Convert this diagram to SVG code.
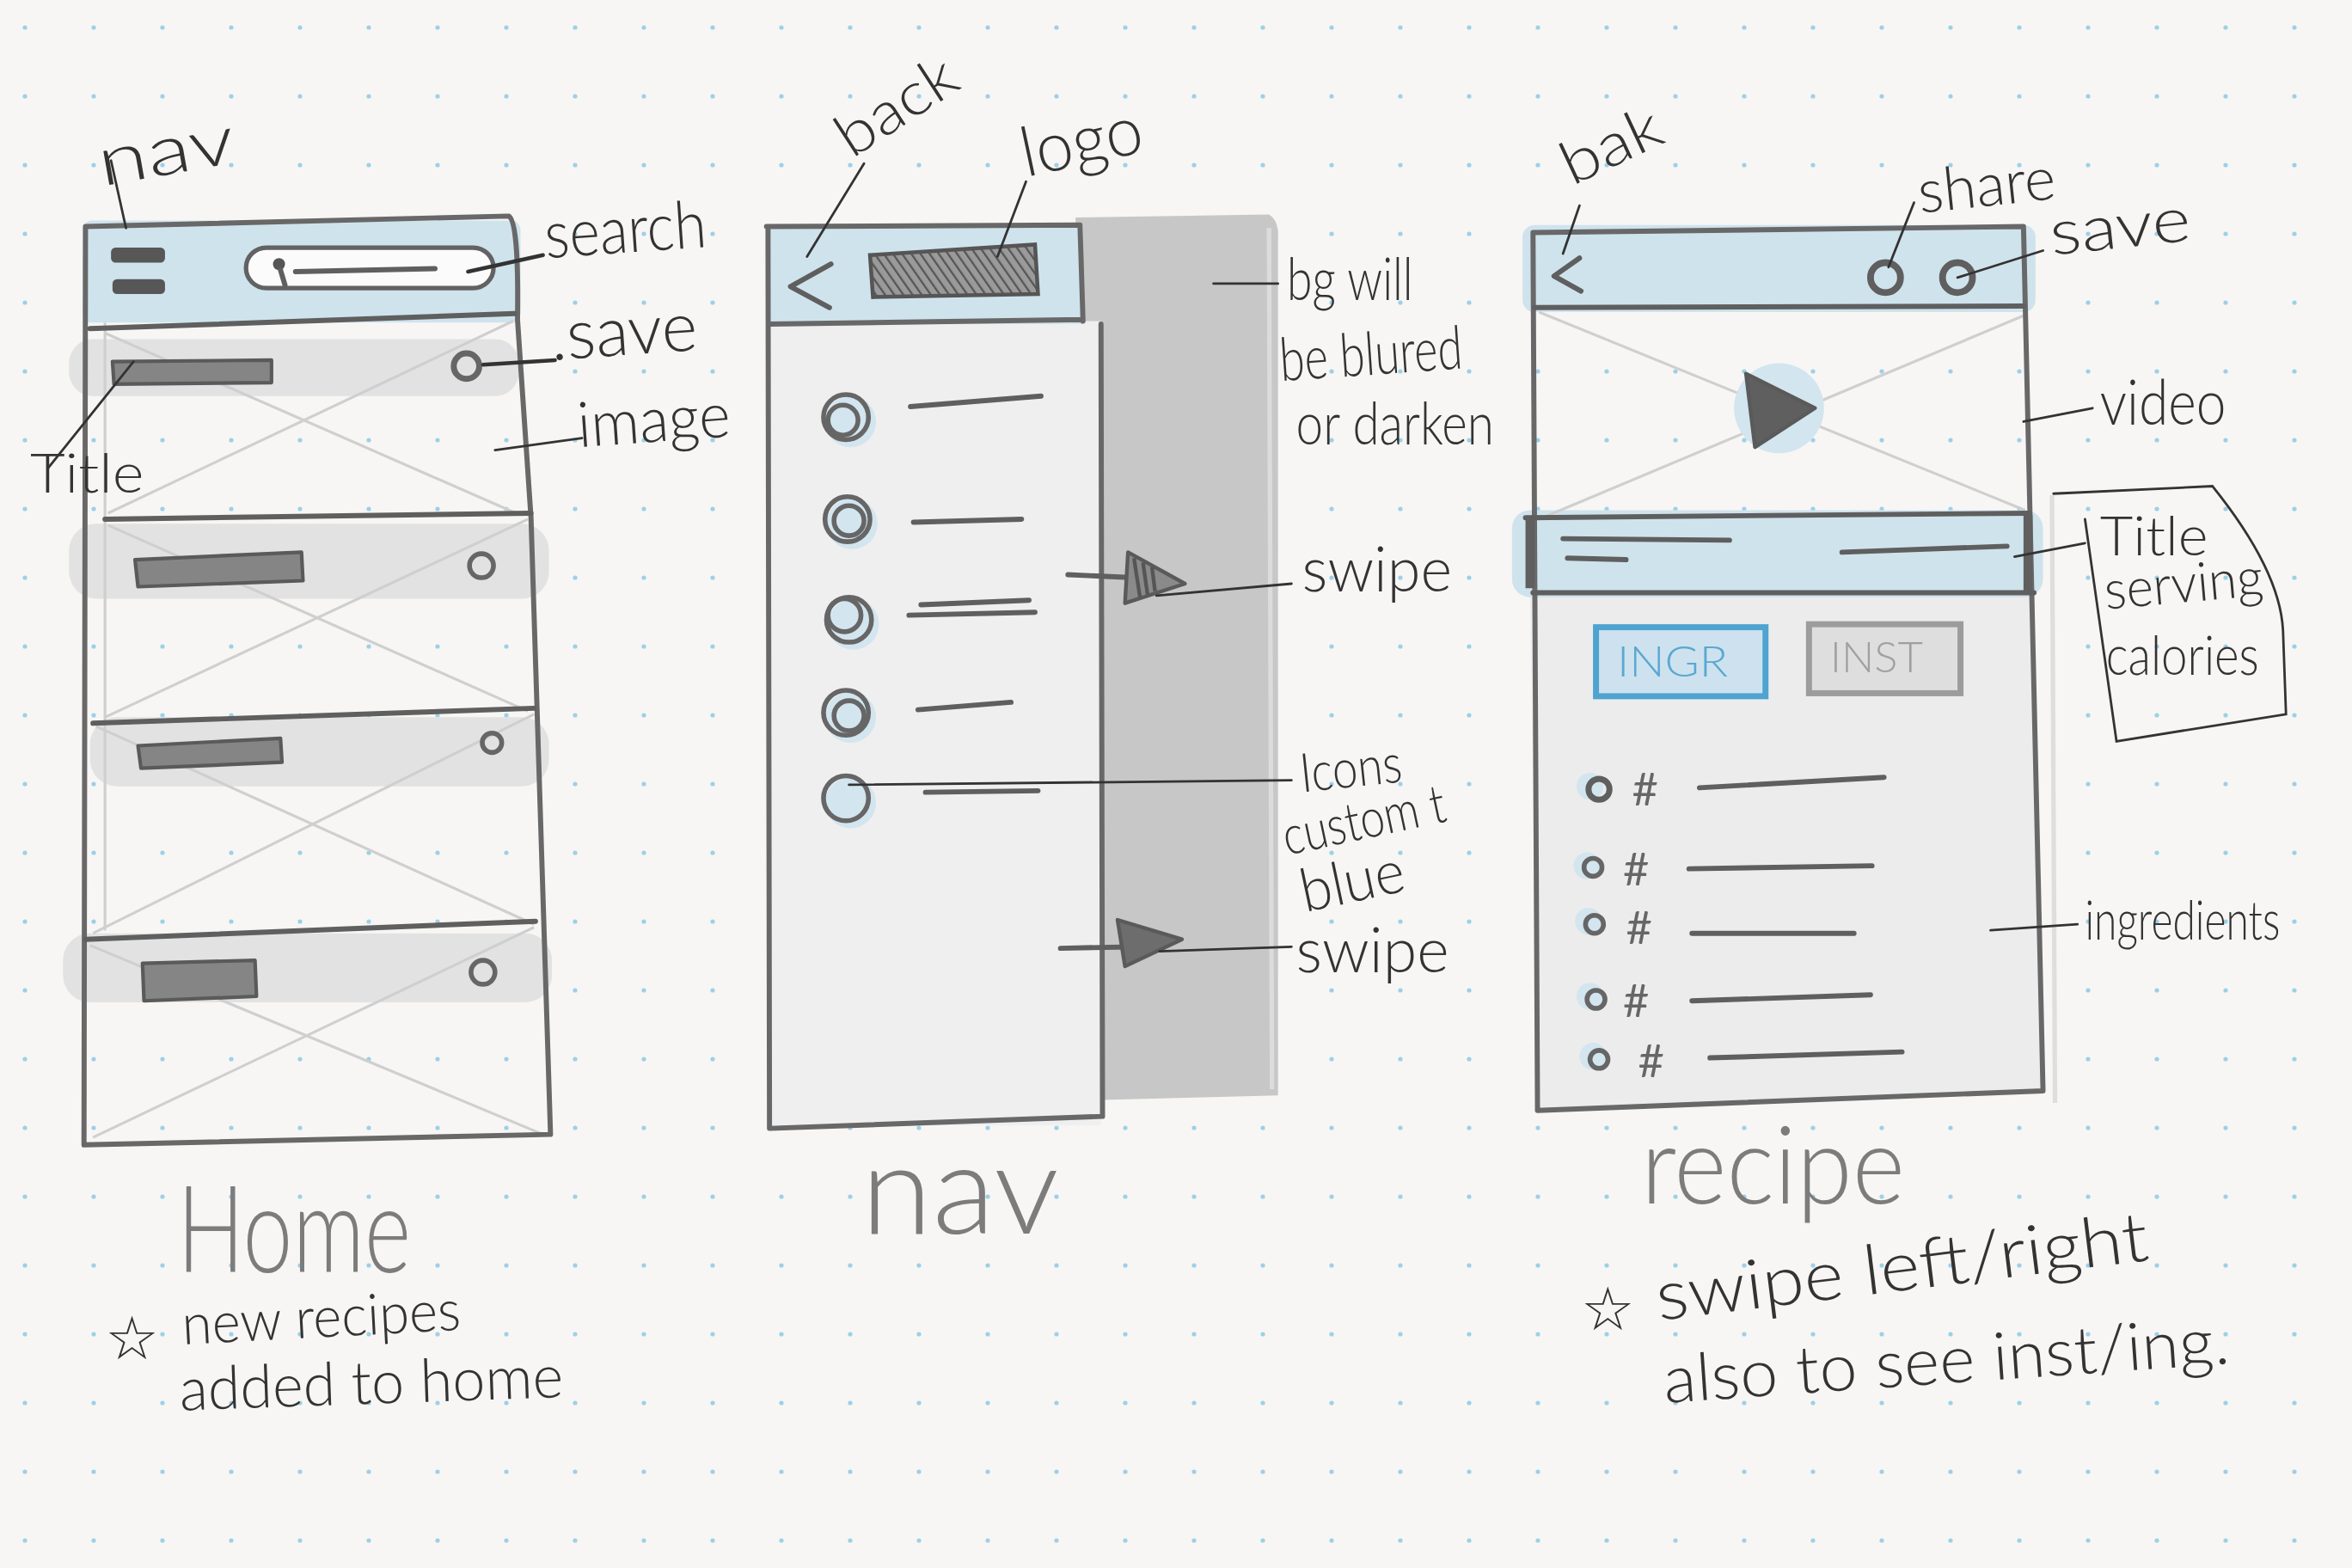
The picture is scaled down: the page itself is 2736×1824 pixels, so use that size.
<svg xmlns="http://www.w3.org/2000/svg" width="2736" height="1824" viewBox="0 0 2736 1824">
<defs>
<pattern id="dots" patternUnits="userSpaceOnUse" width="80" height="80"><circle cx="29" cy="32" r="2.6" fill="#9dd0e7"/></pattern>
<pattern id="hatch" patternUnits="userSpaceOnUse" width="5" height="5" patternTransform="rotate(-35)"><rect width="5" height="5" fill="#9a9a9a"/><line x1="0" y1="0" x2="0" y2="5" stroke="#555" stroke-width="2.6"/></pattern>
<style>
.hand{font-family:Lato,'Open Sans','DejaVu Sans',sans-serif;font-weight:300;fill:#333}
.big{font-family:Lato,'Open Sans','DejaVu Sans',sans-serif;font-weight:300;fill:#7c7c7c}
.sym{font-family:'DejaVu Sans',sans-serif;fill:#333;font-weight:bold}
.frame{fill:none;stroke:#686868;stroke-width:3.4;stroke-linejoin:round;stroke-linecap:round}
.dark{fill:none;stroke:#5f5f5f;stroke-width:3.4;stroke-linecap:round;stroke-linejoin:round}
.xl{fill:none;stroke:#cfcfcf;stroke-width:1.8}
.lead{fill:none;stroke:#333;stroke-width:1.6;stroke-linecap:round}
.blue{fill:#cfe3ed}
.band{fill:#e2e2e2}
.ico{fill:none;stroke:#666;stroke-width:3.2}
.halo{fill:#d3e5ee}
.tbar{fill:#858585;stroke:#5a5a5a;stroke-width:2.4;stroke-linejoin:round}
</style>
</defs>
<rect width="2736" height="1824" fill="#f7f6f4"/>
<rect width="2736" height="1824" fill="url(#dots)"/>
<g transform="scale(1.7449 1.7455)">

<!-- HOME SCREEN -->
<g id="home-screen">
 <rect x="55" y="147" width="292" height="68" rx="6" class="blue"/>
 <rect x="46" y="226" width="300" height="38" rx="16" class="band"/>
 <rect x="46" y="349" width="320" height="50" rx="18" class="band"/>
 <rect x="60" y="478" width="306" height="46" rx="18" class="band"/>
 <rect x="42" y="622" width="326" height="46" rx="18" class="band"/>
 <path class="xl" d="M70,222 L344,342 M342,214 L72,342"/>
 <path class="xl" d="M72,350 L352,474 M352,346 L70,478"/>
 <path class="xl" d="M64,484 L356,616 M356,476 L62,622"/>
 <path class="xl" d="M60,630 L362,756 M356,618 L62,758"/>
 <path class="xl" d="M70,215 L70,620"/>
 <path class="frame" d="M57,151 L339,144 Q346,147 345,213 L354,345 L367,756 L56,763 Z"/>
 <path class="dark" d="M60,219 L343,209"/>
 <path class="dark" d="M70,346 L354,342"/>
 <path class="dark" d="M62,482 L356,472"/>
 <path class="dark" d="M57,626 L357,614"/>
 <rect x="74" y="165" width="36" height="10" rx="3" fill="#575757"/>
 <rect x="75" y="186" width="35" height="10" rx="3" fill="#575757"/>
 <rect x="164" y="165" width="165" height="27" rx="13.5" fill="#fbfbfb" stroke="#626262" stroke-width="3"/>
 <path class="dark" stroke-width="3" d="M197,181 L290,179"/>
 <circle cx="186" cy="176" r="4" fill="#555"/>
 <path class="dark" stroke-width="2.4" d="M187,180 L190,190"/>
 <path class="tbar" d="M75,241 L181,240 L181,255 L76,256 Z"/>
 <path class="tbar" d="M90,373 L201,368 L202,387 L92,391 Z"/>
 <path class="tbar" d="M92,497 L187,492 L188,508 L94,512 Z"/>
 <path class="tbar" d="M95,642 L170,640 L171,664 L96,667 Z"/>
 <circle cx="311" cy="244" r="8.5" fill="none" stroke="#666" stroke-width="4"/>
 <circle cx="321" cy="377" r="8" class="ico"/>
 <circle cx="328" cy="495" r="6.5" class="ico"/>
 <circle cx="322" cy="648" r="8" class="ico"/>
</g>

<!-- NAV SCREEN -->
<g id="nav-screen">
 <path d="M717,145 L846,143 Q853,147 852,160 L852,730 L735,733 Z" fill="#c7c7c7"/>
 <path d="M846,152 L848,726" stroke="#dcdcdc" stroke-width="3" fill="none"/>
 <rect x="512" y="214" width="222" height="536" fill="#efefef"/>
 <rect x="512" y="150" width="210" height="66" class="blue"/>
 <path class="frame" d="M511,151 L720,150 L722,214 M512,151 L513,752 L735,744 L734,216 M513,216 L722,213"/>
 <path class="dark" stroke-width="4" d="M554,176 L527,191 L553,205"/>
 <path d="M580,170 L690,163 L692,196 L582,198 Z" fill="url(#hatch)" stroke="#555" stroke-width="2.6"/>
 <circle cx="567" cy="281" r="17" class="halo"/>
 <circle cx="568" cy="349" r="17" class="halo"/>
 <circle cx="569" cy="416" r="17" class="halo"/>
 <circle cx="567" cy="478" r="17" class="halo"/>
 <circle cx="567" cy="535" r="17" class="halo"/>
 <circle cx="564" cy="278" r="15" class="ico"/><circle cx="562" cy="280" r="10" class="ico" stroke-width="2"/>
 <circle cx="565" cy="346" r="15" class="ico"/><circle cx="566" cy="347" r="10" class="ico" stroke-width="2"/>
 <circle cx="566" cy="413" r="15" class="ico"/><circle cx="563" cy="410" r="11" class="ico" stroke-width="2"/>
 <circle cx="564" cy="475" r="15" class="ico"/><circle cx="566" cy="477" r="10" class="ico" stroke-width="2"/>
 <circle cx="564" cy="532" r="15" class="ico"/>
 <path class="dark" d="M607,271 L694,264"/>
 <path class="dark" d="M609,348 L681,346"/>
 <path class="dark" d="M606,410 L690,408 M614,403 L686,400"/>
 <path class="dark" d="M612,473 L674,468"/>
 <path class="dark" d="M617,528 L692,527"/>
 <path class="dark" d="M712,383 L756,385"/>
 <path d="M752,368 L790,389 L750,402 Z" fill="#8a8a8a" stroke="#5a5a5a" stroke-width="2.5" stroke-linejoin="round"/>
 <path d="M756,372 L760,398 M762,375 L765,396 M768,378 L770,394" stroke="#555" stroke-width="2.5" fill="none"/>
 <path class="dark" d="M707,632 L754,631"/>
 <path d="M745,613 L788,626 L750,644 Z" fill="#6d6d6d" stroke="#5a5a5a" stroke-width="2.5" stroke-linejoin="round"/>
</g>

<!-- RECIPE SCREEN -->
<g id="recipe-screen">
 <path d="M1020,395 L1356,395 L1362,727 L1025,740 Z" fill="#ececec"/>
 <rect x="1015" y="150" width="342" height="58" rx="8" class="blue"/>
 <rect x="1008" y="340" width="354" height="58" rx="12" class="blue"/>
 <path class="xl" d="M1026,208 L1350,340 M1350,210 L1026,346"/>
 <path d="M1368,330 L1370,735" stroke="#dedede" stroke-width="3" fill="none"/>
 <circle cx="1186" cy="272" r="30" class="halo"/>
 <path d="M1164,249 L1210,272 L1170,298 Z" fill="#5f5f5f" stroke="#5a5a5a" stroke-width="2.5" stroke-linejoin="round"/>
 <path class="frame" d="M1022,155 L1349,151 L1362,727 L1025,740 Z"/>
 <path class="dark" d="M1023,205 L1349,204"/>
 <path class="dark" d="M1017,345 L1353,342"/>
 <path class="dark" d="M1022,395 L1356,395"/>
 <path d="M1020,345 L1020,392 M1352,343 L1352,394" stroke="#5f5f5f" stroke-width="6" fill="none"/>
 <path class="dark" d="M1042,359 L1153,360"/>
 <path class="dark" d="M1045,372 L1084,373"/>
 <path class="dark" d="M1228,368 L1338,364"/>
 <path class="dark" stroke-width="4" d="M1053,172 L1036,184 L1054,194"/>
 <circle cx="1257" cy="185" r="10" fill="none" stroke="#5f5f5f" stroke-width="4.5"/>
 <circle cx="1305" cy="185" r="10" fill="none" stroke="#5f5f5f" stroke-width="4.5"/>
 <rect x="1064" y="418" width="113" height="46" fill="#cde2ee" stroke="#4fa3d1" stroke-width="4"/>
 <text x="1078" y="451" class="hand" font-size="28" textLength="74" lengthAdjust="spacingAndGlyphs" style="fill:#5aa8d2">INGR</text>
 <rect x="1206" y="416" width="101" height="46" fill="#dedede" stroke="#9c9c9c" stroke-width="4"/>
 <text x="1220" y="448" class="hand" font-size="28" textLength="62" lengthAdjust="spacingAndGlyphs" style="fill:#a0a0a0">INST</text>
 <circle cx="1060" cy="524" r="9" class="halo"/><circle cx="1066" cy="526" r="7" fill="none" stroke="#5f5f5f" stroke-width="4"/>
 <circle cx="1058" cy="577" r="9" class="halo"/><circle cx="1062" cy="578" r="6" class="ico" stroke-width="3"/>
 <circle cx="1059" cy="614" r="9" class="halo"/><circle cx="1063" cy="616" r="6" class="ico" stroke-width="3"/>
 <circle cx="1060" cy="664" r="9" class="halo"/><circle cx="1064" cy="666" r="6" class="ico" stroke-width="3"/>
 <circle cx="1062" cy="704" r="9" class="halo"/><circle cx="1066" cy="706" r="6" class="ico" stroke-width="3"/>
 <g class="hand" font-size="30" style="fill:#666;font-weight:400">
  <text x="1088" y="537">#</text>
  <text x="1082" y="590">#</text>
  <text x="1084" y="629">#</text>
  <text x="1082" y="678">#</text>
  <text x="1092" y="718">#</text>
 </g>
 <path class="dark" stroke-width="2.6" d="M1133,525 L1256,518"/>
 <path class="dark" stroke-width="2.6" d="M1126,579 L1248,577"/>
 <path class="dark" stroke-width="2.6" d="M1128,622 L1236,622"/>
 <path class="dark" stroke-width="2.6" d="M1128,667 L1247,663"/>
 <path class="dark" stroke-width="2.6" d="M1140,705 L1268,701"/>
</g>

<!-- LABELS -->
<g id="label-nav"><text class="hand" x="68" y="124" font-size="46" textLength="92" lengthAdjust="spacingAndGlyphs" transform="rotate(-10 68 124)">nav</text></g>
<g id="label-search"><text class="hand" x="364" y="172" font-size="44" textLength="108" lengthAdjust="spacingAndGlyphs" transform="rotate(-4 364 172)">search</text></g>
<g id="label-save-home"><text class="hand" x="368" y="240" font-size="46" textLength="98" lengthAdjust="spacingAndGlyphs" transform="rotate(-4 368 240)">.save</text></g>
<g id="label-image"><text class="hand" x="386" y="298" font-size="42" textLength="102" lengthAdjust="spacingAndGlyphs" transform="rotate(-4 386 298)">image</text></g>
<g id="label-title-home"><text class="hand" x="20" y="328" font-size="36" textLength="76" lengthAdjust="spacingAndGlyphs">Title</text></g>
<g id="title-home"><text class="big" x="118" y="848" font-size="80" textLength="156" lengthAdjust="spacingAndGlyphs">Home</text></g>
<g id="note-home">
 <text class="sym" x="70" y="906" font-size="40">☆</text>
 <text class="hand" x="122" y="896" font-size="38" textLength="186" lengthAdjust="spacingAndGlyphs" transform="rotate(-3 122 896)">new recipes</text>
 <text class="hand" x="120" y="940" font-size="40" textLength="256" lengthAdjust="spacingAndGlyphs" transform="rotate(-2 120 940)">added to home</text>
</g>

<g id="label-back"><text class="hand" x="568" y="106" font-size="40" textLength="88" lengthAdjust="spacingAndGlyphs" transform="rotate(-33 568 106)">back</text></g>
<g id="label-logo"><text class="hand" x="684" y="118" font-size="46" textLength="82" lengthAdjust="spacingAndGlyphs" transform="rotate(-12 684 118)">logo</text></g>
<g id="label-bg">
 <text class="hand" x="858" y="200" font-size="40" textLength="84" lengthAdjust="spacingAndGlyphs">bg will</text>
 <text class="hand" x="854" y="254" font-size="40" textLength="122" lengthAdjust="spacingAndGlyphs" transform="rotate(-4 854 254)">be blured</text>
 <text class="hand" x="864" y="296" font-size="40" textLength="132" lengthAdjust="spacingAndGlyphs">or darken</text>
</g>
<g id="label-swipe-1"><text class="hand" x="868" y="394" font-size="42" textLength="100" lengthAdjust="spacingAndGlyphs">swipe</text></g>
<g id="label-icons">
 <text class="hand" x="868" y="528" font-size="36" textLength="68" lengthAdjust="spacingAndGlyphs" transform="rotate(-6 868 528)">Icons</text>
 <text class="hand" x="858" y="570" font-size="36" textLength="110" lengthAdjust="spacingAndGlyphs" transform="rotate(-12 858 570)">custom t</text>
 <text class="hand" x="870" y="608" font-size="40" textLength="70" lengthAdjust="spacingAndGlyphs" transform="rotate(-12 870 608)">blue</text>
</g>
<g id="label-swipe-2"><text class="hand" x="864" y="648" font-size="42" textLength="102" lengthAdjust="spacingAndGlyphs">swipe</text></g>
<g id="title-nav"><text class="big" x="574" y="822" font-size="84" textLength="132" lengthAdjust="spacingAndGlyphs">nav</text></g>

<g id="label-bak"><text class="hand" x="1048" y="124" font-size="40" textLength="70" lengthAdjust="spacingAndGlyphs" transform="rotate(-25 1048 124)">bak</text></g>
<g id="label-share"><text class="hand" x="1280" y="142" font-size="40" textLength="92" lengthAdjust="spacingAndGlyphs" transform="rotate(-6 1280 142)">share</text></g>
<g id="label-save-recipe"><text class="hand" x="1368" y="170" font-size="42" textLength="94" lengthAdjust="spacingAndGlyphs" transform="rotate(-6 1368 170)">save</text></g>
<g id="label-video"><text class="hand" x="1400" y="283" font-size="42" textLength="84" lengthAdjust="spacingAndGlyphs">video</text></g>
<g id="label-title-recipe">
 <path class="lead" d="M1369,329 L1475,324 Q1520,380 1522,420 L1524,476 L1411,494 L1390,346"/>
 <text class="hand" x="1400" y="370" font-size="36" textLength="72" lengthAdjust="spacingAndGlyphs">Title</text>
 <text class="hand" x="1404" y="406" font-size="36" textLength="106" lengthAdjust="spacingAndGlyphs" transform="rotate(-5 1404 406)">serving</text>
 <text class="hand" x="1404" y="450" font-size="36" textLength="102" lengthAdjust="spacingAndGlyphs">calories</text>
</g>
<g id="label-ingredients"><text class="hand" x="1390" y="626" font-size="36" textLength="130" lengthAdjust="spacingAndGlyphs">ingredients</text></g>
<g id="title-recipe"><text class="big" x="1094" y="802" font-size="72" textLength="176" lengthAdjust="spacingAndGlyphs">recipe</text></g>
<g id="note-recipe">
 <text class="sym" x="1054" y="886" font-size="40">☆</text>
 <text class="hand" x="1106" y="880" font-size="46" textLength="330" lengthAdjust="spacingAndGlyphs" transform="rotate(-7 1106 880)">swipe left/right</text>
 <text class="hand" x="1110" y="935" font-size="44" textLength="378" lengthAdjust="spacingAndGlyphs" transform="rotate(-4 1110 935)">also to see inst/ing.</text>
</g>

<!-- CONNECTORS -->
<g id="connectors" class="lead">
 <path d="M74,107 L84,152"/>
 <path d="M312,181 L362,170" stroke-width="2.6"/>
 <path d="M322,243 L370,240" stroke-width="2.6"/>
 <path d="M330,300 L388,292"/>
 <path d="M89,241 L32,312"/>
 <path d="M538,171 L576,109"/>
 <path d="M665,171 L684,121"/>
 <path d="M809,189 L852,189"/>
 <path d="M771,397 L861,389"/>
 <path d="M566,523 L861,520"/>
 <path d="M773,634 L861,631"/>
 <path d="M1042,169 L1053,137"/>
 <path d="M1259,178 L1276,135"/>
 <path d="M1305,185 L1362,167"/>
 <path d="M1349,281 L1395,272"/>
 <path d="M1343,371 L1390,362"/>
 <path d="M1327,620 L1385,616"/>
</g>
</g>
</svg>
